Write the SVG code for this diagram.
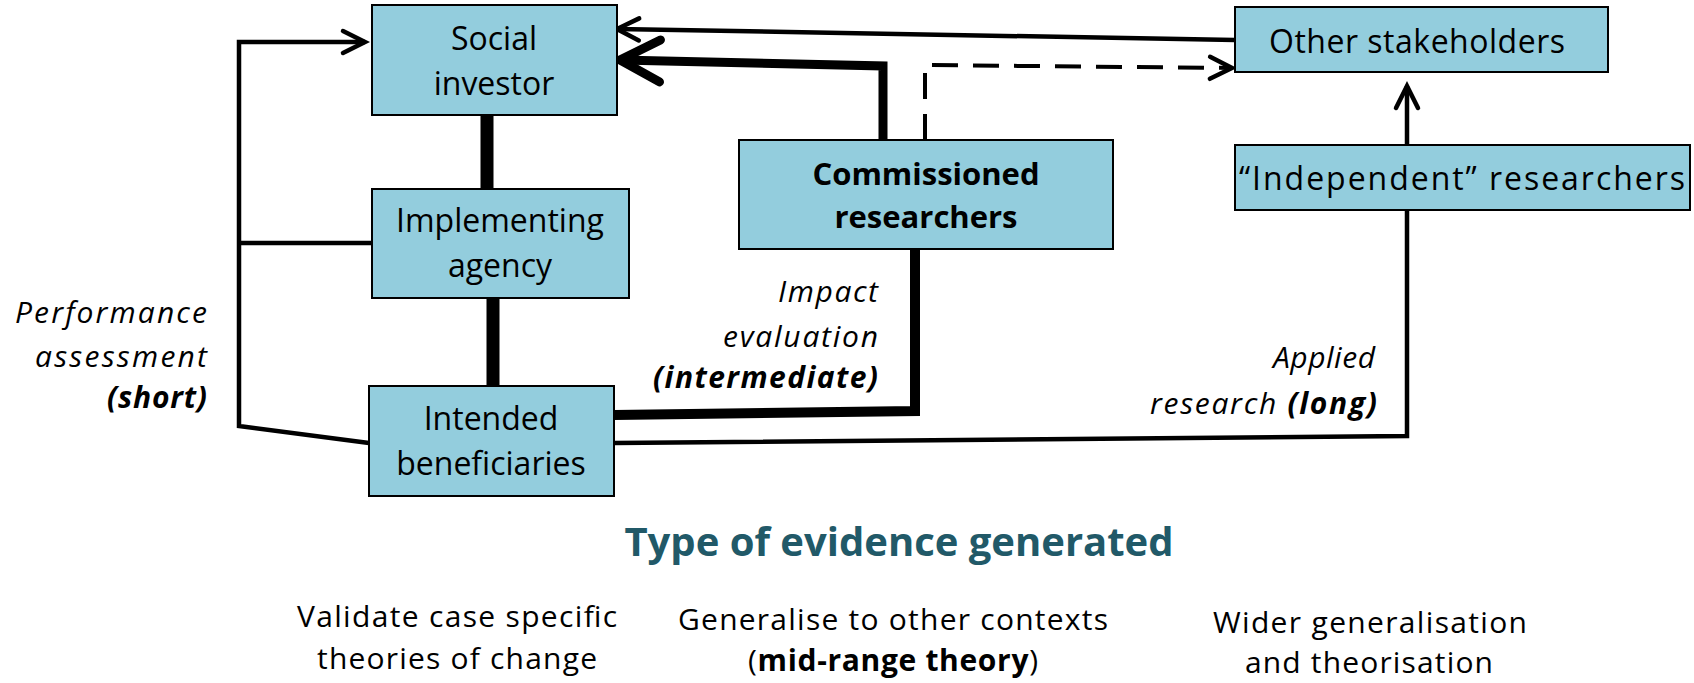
<svg xmlns="http://www.w3.org/2000/svg" width="1694" height="683" viewBox="0 0 1694 683">
  <style>
    .box { fill: #93CDDD; stroke: #000; stroke-width: 2; }
    .lbl { font-family: "Open Sans", "Liberation Sans", sans-serif; font-size: 32px; fill: #000; text-anchor: middle; }
    .b { font-weight: bold; }
    .ann { font-family: "Open Sans", "Liberation Sans", sans-serif; font-size: 30px; font-style: italic; fill: #000; text-anchor: end; }
    .thin { fill: none; stroke: #000; stroke-width: 4.5; }
    .dash { fill: none; stroke: #000; stroke-width: 4; stroke-dasharray: 26 15; }
    .title { font-family: "Open Sans", "Liberation Sans", sans-serif; font-size: 40px; font-weight: bold; fill: #215968; text-anchor: middle; }
    .ev { font-family: "Open Sans", "Liberation Sans", sans-serif; font-size: 30px; fill: #000; text-anchor: middle; }
  </style>
  <defs>
    <marker id="arr" markerUnits="userSpaceOnUse" viewBox="-30 -20 40 40" markerWidth="40" markerHeight="40" refX="0" refY="0" orient="auto" overflow="visible">
      <path d="M -22 -11 L 0 0 L -22 11" fill="none" stroke="#000" stroke-width="4.5" stroke-dasharray="none" stroke-linecap="round"/>
    </marker>
    <marker id="arrThick" markerUnits="userSpaceOnUse" viewBox="-50 -30 60 60" markerWidth="60" markerHeight="60" refX="0" refY="0" orient="auto" overflow="visible">
      <path d="M -40 -21 L 0 0 L -40 21" fill="none" stroke="#000" stroke-width="9" stroke-linecap="round"/>
    </marker>
  </defs>

  <g id="connectors">
    <line x1="487" y1="115" x2="487" y2="189" stroke="#000" stroke-width="13"/>
    <line x1="493" y1="298" x2="493" y2="386" stroke="#000" stroke-width="13"/>
    <path class="thin" d="M 369 443 L 239 426 L 239 42 L 365 42" marker-end="url(#arr)"/>
    <line x1="239" y1="243" x2="372" y2="243" stroke="#000" stroke-width="4.5"/>
    <path class="thin" d="M 1235 40 L 617 29" marker-end="url(#arr)"/>
    <path d="M 883 140 L 883 66 L 620 60" fill="none" stroke="#000" stroke-width="9" marker-end="url(#arrThick)"/>
    <path class="dash" d="M 925 140 L 925 65 L 1232 68" marker-end="url(#arr)"/>
    <path d="M 915 249 L 915 411 L 614 415" fill="none" stroke="#000" stroke-width="10"/>
    <path class="thin" d="M 614 443 L 1407 436 L 1407 210"/>
    <path class="thin" d="M 1407 145 L 1407 86" marker-end="url(#arr)"/>
  </g>

  <g id="social-investor">
    <rect class="box" x="372" y="5" width="245" height="110"/>
    <text class="lbl" x="494" y="50">Social</text>
    <text class="lbl" x="494" y="95">investor</text>
  </g>
  <g id="implementing-agency">
    <rect class="box" x="372" y="189" width="257" height="109"/>
    <text class="lbl" x="500" y="232">Implementing</text>
    <text class="lbl" x="500" y="277">agency</text>
  </g>
  <g id="intended-beneficiaries">
    <rect class="box" x="369" y="386" width="245" height="110"/>
    <text class="lbl" x="491" y="430">Intended</text>
    <text class="lbl" x="491" y="475">beneficiaries</text>
  </g>
  <g id="commissioned-researchers">
    <rect class="box" x="739" y="140" width="374" height="109"/>
    <text class="lbl b" x="926" y="185" style="font-size:31px">Commissioned</text>
    <text class="lbl b" x="926" y="228" style="font-size:31px">researchers</text>
  </g>
  <g id="other-stakeholders">
    <rect class="box" x="1235" y="7" width="373" height="65"/>
    <text class="lbl" x="1417" y="53" textLength="296">Other stakeholders</text>
  </g>
  <g id="independent-researchers">
    <rect class="box" x="1235" y="145" width="455" height="65"/>
    <text class="lbl" x="1462" y="190" textLength="446">“Independent” researchers</text>
  </g>

  <g id="labels">
    <text class="ann" x="207" y="323" textLength="192">Performance</text>
    <text class="ann" x="207" y="367" textLength="172">assessment</text>
    <text class="ann b" x="207" y="408" textLength="100">(short)</text>
    <text class="ann" x="878" y="302" textLength="100">Impact</text>
    <text class="ann" x="878" y="347" textLength="155">evaluation</text>
    <text class="ann b" x="878" y="388" textLength="225">(intermediate)</text>
    <text class="ann" x="1375" y="368" textLength="102">Applied</text>
    <text class="ann" x="1377" y="414" textLength="227">research <tspan class="b">(long)</tspan></text>
  </g>

  <g id="evidence">
    <text class="title" x="899" y="556">Type of evidence generated</text>
    <text class="ev" x="457" y="627" textLength="320">Validate case specific</text>
    <text class="ev" x="457" y="669" textLength="280">theories of change</text>
    <text class="ev" x="893" y="630" textLength="430">Generalise to other contexts</text>
    <text class="ev" x="893" y="671" textLength="290">(<tspan class="b">mid-range theory</tspan>)</text>
    <text class="ev" x="1370" y="633" textLength="314">Wider generalisation</text>
    <text class="ev" x="1369" y="673" textLength="248">and theorisation</text>
  </g>
</svg>
